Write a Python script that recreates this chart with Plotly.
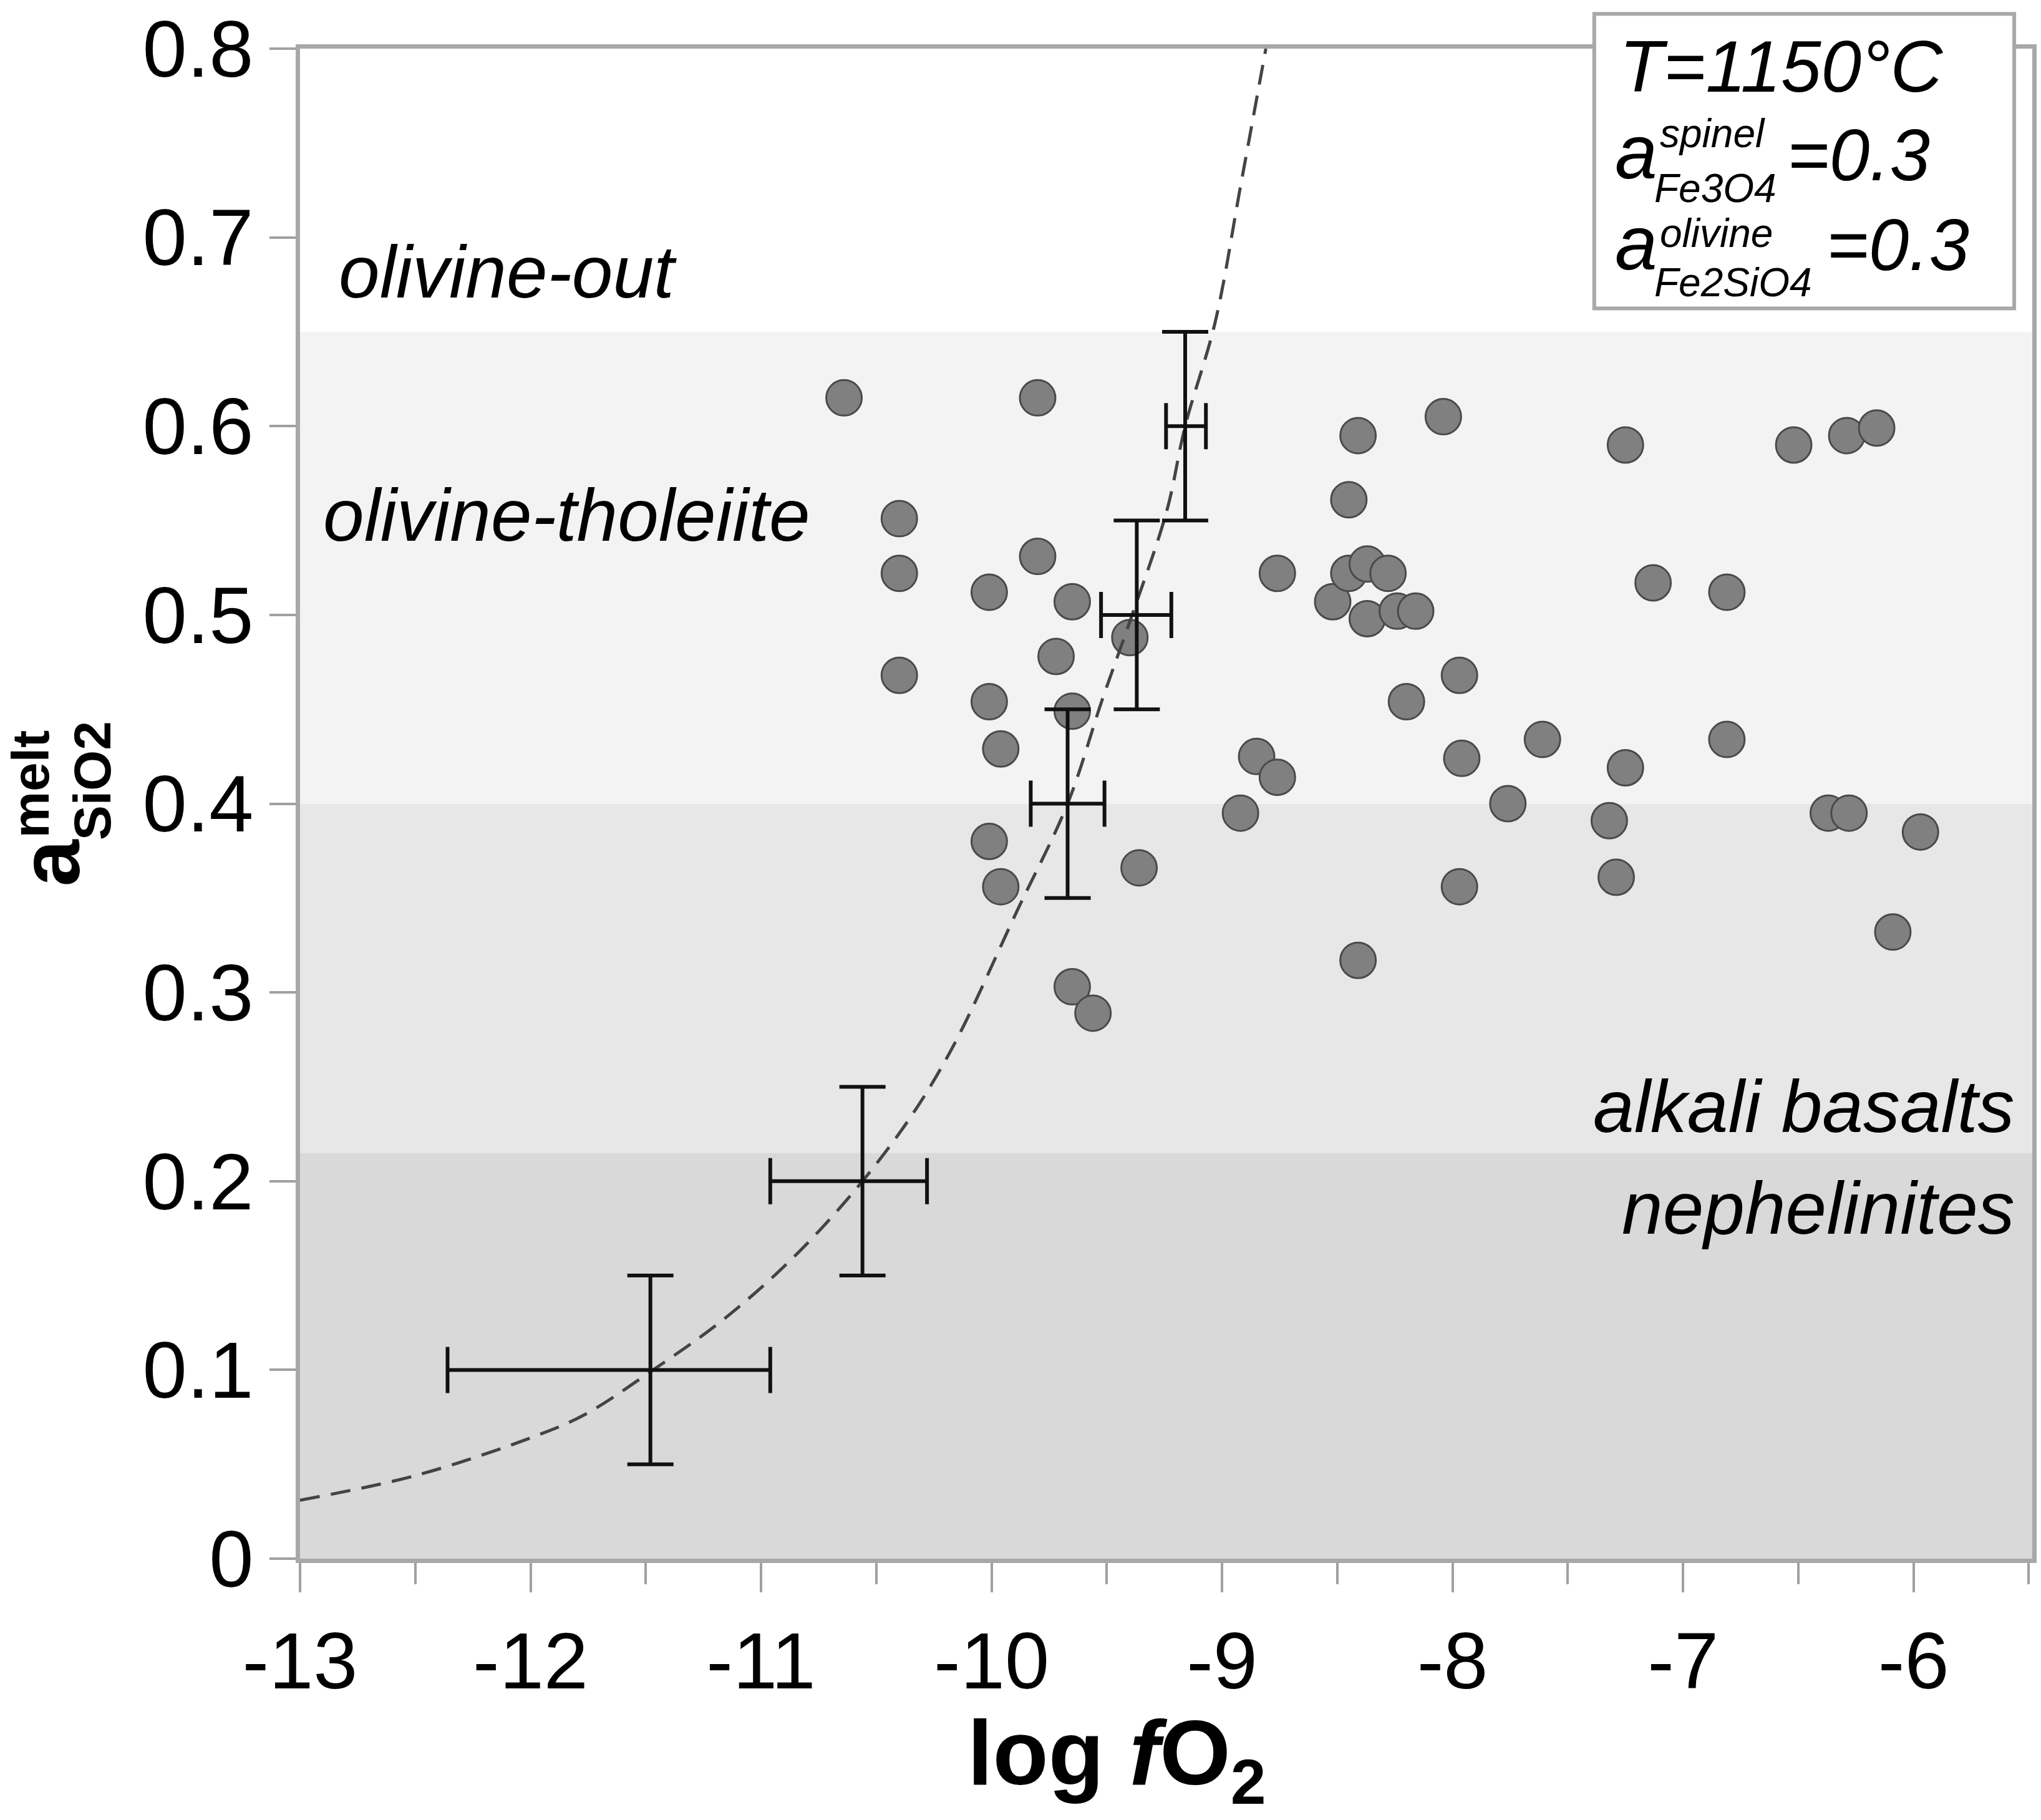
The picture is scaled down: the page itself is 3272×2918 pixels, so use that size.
import plotly.graph_objects as go

# ---------------- data ----------------
pts_logfo2 = [-10.64, -9.80, -10.40, -10.40, -10.40, -9.80, -10.01, -9.65, -9.72, -10.01,
              -9.65, -9.96, -10.01, -9.96, -9.36, -9.40, -9.65, -9.56, -8.92, -8.85,
              -8.76, -8.76, -8.41, -8.45, -8.52, -8.45, -8.37, -8.28, -8.37, -8.24,
              -8.16, -8.20, -8.41, -8.04, -7.97, -7.96, -7.76, -7.97, -7.61, -7.25,
              -7.13, -7.25, -7.32, -7.29, -6.81, -6.81, -6.52, -6.29, -6.16, -6.37,
              -6.28, -6.09, -5.97]
pts_asio2 = [0.615, 0.615, 0.551, 0.522, 0.468, 0.531, 0.512, 0.507, 0.478, 0.454,
             0.449, 0.429, 0.380, 0.356, 0.366, 0.488, 0.303, 0.289, 0.395, 0.425,
             0.414, 0.522, 0.595, 0.561, 0.507, 0.522, 0.527, 0.522, 0.498, 0.502,
             0.502, 0.454, 0.317, 0.605, 0.468, 0.424, 0.400, 0.356, 0.434, 0.590,
             0.517, 0.419, 0.391, 0.361, 0.512, 0.434, 0.590, 0.595, 0.599, 0.395,
             0.395, 0.332, 0.385]

# experimental calibration points with error bars
cal_logfo2 = [-11.48, -10.56, -9.67, -9.37, -9.16]
cal_asio2 = [0.10, 0.20, 0.40, 0.50, 0.60]
cal_x_err_minus = [0.88, 0.40, 0.16, 0.155, 0.083]
cal_x_err_plus = [0.52, 0.28, 0.16, 0.15, 0.09]
cal_y_err = [0.05, 0.05, 0.05, 0.05, 0.05]

# dashed model curve
curve_logfo2 = [-13.00, -12.50, -12.00, -11.77, -11.48, -11.15, -10.84, -10.56, -10.34,
                -10.16, -9.89, -9.67, -9.52, -9.39, -9.24, -9.16, -9.03, -8.92, -8.81]
curve_asio2 = [0.031, 0.044, 0.064, 0.076, 0.099, 0.128, 0.162, 0.200, 0.236,
               0.273, 0.343, 0.400, 0.455, 0.500, 0.555, 0.600, 0.655, 0.727, 0.800]

# shaded compositional fields (aSiO2 bounds)
band_bounds = [0.0, 0.215, 0.40, 0.65]

x_tickvals = [-13, -12, -11, -10, -9, -8, -7, -6]
x_ticktext = ["-13", "-12", "-11", "-10", "-9", "-8", "-7", "-6"]
y_tickvals = [0, 0.1, 0.2, 0.3, 0.4, 0.5, 0.6, 0.7, 0.8]
y_ticktext = ["0", "0.1", "0.2", "0.3", "0.4", "0.5", "0.6", "0.7", "0.8"]

# ---------------- layout helpers ----------------
W, H = 3272, 2918
L, R, T, B = 481, 3265, 69, 2499
FONT = "Liberation Sans, Arial, Helvetica, sans-serif"


def pxx(x):
    return (x - L) / (R - L)


def pxy(y):
    return (B - y) / (B - T)


fig = go.Figure()

band_colors = ["#d9d9d9", "#e7e7e7", "#f3f3f3"]
shapes = []
for i, c in enumerate(band_colors):
    shapes.append(dict(type="rect", xref="x", yref="y", x0=-13, x1=-5.485,
                       y0=band_bounds[i], y1=band_bounds[i + 1], fillcolor=c,
                       line=dict(width=0), layer="below"))
# info box
shapes.append(dict(type="rect", xref="paper", yref="paper", x0=pxx(2561), x1=pxx(3236),
                   y0=pxy(487), y1=pxy(13), fillcolor="white",
                   line=dict(color="#a8a8a8", width=6), layer="above"))

fig.add_trace(go.Scatter(x=pts_logfo2, y=pts_asio2, mode="markers",
                         marker=dict(size=57, color="#808080",
                                     line=dict(color="#4a4a4a", width=3)),
                         showlegend=False))
fig.add_trace(go.Scatter(x=curve_logfo2, y=curve_asio2, mode="lines",
                         line=dict(color="#444444", width=5, dash="32px,18px", shape="spline"),
                         showlegend=False))
fig.add_trace(go.Scatter(x=cal_logfo2, y=cal_asio2, mode="markers",
                         marker=dict(size=1, color="rgba(0,0,0,0)"),
                         error_x=dict(type="data", symmetric=False, array=cal_x_err_plus,
                                      arrayminus=cal_x_err_minus, color="#111111",
                                      thickness=6, width=37),
                         error_y=dict(type="data", array=cal_y_err, color="#111111",
                                      thickness=6, width=37),
                         showlegend=False))

ann = []


def text(s, x, y, size, xanchor="left", yanchor="top", angle=0, color="black"):
    ann.append(dict(text=s, x=pxx(x), y=pxy(y), xref="paper", yref="paper",
                    xanchor=xanchor, yanchor=yanchor, showarrow=False, textangle=angle,
                    borderpad=0, borderwidth=0,
                    font=dict(family=FONT, size=size, color=color)))


# field labels
text("<i>olivine-out</i>", 543, 469 - 0.905 * 118, 118)
text("<i>olivine-tholeiite</i>", 518, 860 - 0.905 * 118, 118)
text("<i>alkali basalts</i>", 3237, 1812 - 0.905 * 118, 118, xanchor="right")
text("<i>nephelinites</i>", 3237, 1975 - 0.905 * 118, 118, xanchor="right")

# info box texts
text("<i>T=1150°C</i>", 2601, 138 - 0.905 * 116, 116)
text("<i>a</i>", 2594, 278 - 0.905 * 122, 122)
text("<i>spinel</i>", 2666, 227 - 0.905 * 64, 64)
text("<i>Fe3O4</i>", 2657, 316 - 0.905 * 64, 64)
text("<i>=0.3</i>", 2871, 280 - 0.905 * 116, 116)
text("<i>a</i>", 2594, 424 - 0.905 * 122, 122)
text("<i>olivine</i>", 2666, 388 - 0.905 * 64, 64)
text("<i>Fe2SiO4</i>", 2657, 467 - 0.905 * 64, 64)
text("<i>=0.3</i>", 2934, 425 - 0.905 * 116, 116)

# axis titles
text("<b>log <i>f</i>O<sub>2</sub></b>", 1794, 2862 - 0.905 * 146, 146, xanchor="center")
text("<b>a</b>", 126 - 0.3465 * 135, 1379, 135, xanchor="center", yanchor="middle", angle=-90)
text("<b>melt</b>", 77 - 0.3465 * 84, 1252, 84, xanchor="center", yanchor="middle", angle=-90)
text("<b>SiO2</b>", 176 - 0.3465 * 84, 1247, 84, xanchor="center", yanchor="middle", angle=-90)

axis_common = dict(showgrid=False, zeroline=False, showline=True, linecolor="#a8a8a8",
                   linewidth=7, mirror=True, ticks="outside", tickcolor="#a0a0a0",
                   tickwidth=4, ticklabeloverflow="allow",
                   tickfont=dict(family=FONT, size=128, color="black"))

fig.update_layout(
    width=W, height=H,
    margin=dict(l=L, r=W - R, t=T, b=H - B, pad=0),
    paper_bgcolor="white", plot_bgcolor="white",
    shapes=shapes, annotations=ann,
    xaxis=dict(range=[-13, -5.485], tickmode="array", tickvals=x_tickvals,
               ticktext=x_ticktext, ticklen=47,
               minor=dict(dtick=0.5, tick0=-13, ticks="outside", ticklen=34,
                          tickwidth=4, tickcolor="#a0a0a0", showgrid=False),
               **axis_common),
    yaxis=dict(range=[0, 0.8], tickmode="array", tickvals=y_tickvals,
               ticktext=y_ticktext, ticklen=42, **axis_common),
)

fig.write_html("out.html")
